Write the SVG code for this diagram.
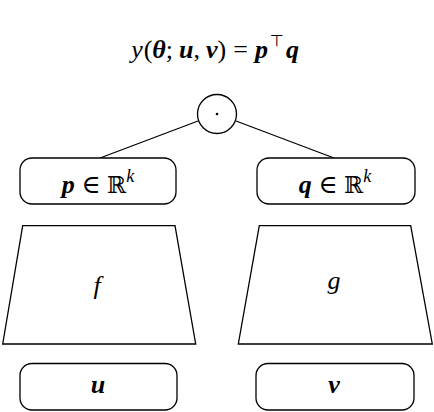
<svg xmlns="http://www.w3.org/2000/svg" width="434" height="412" viewBox="0 0 434 412">
<style>
.shape{fill:#fff;stroke:#000;stroke-width:1.3}
.edge{stroke:#000;stroke-width:1.3;fill:none}
text{font-family:"Liberation Serif","DejaVu Serif",serif;font-size:26px;fill:#000;text-anchor:middle}
.i{font-style:italic}
.b{font-weight:bold;font-style:italic}
.r{font-style:normal;font-weight:normal}
.ds{font-family:"DejaVu Serif",serif;font-style:normal;font-weight:normal;font-size:23px}
.sup{font-size:18px;font-style:italic}
</style>
<rect width="434" height="412" fill="#fff"/>
<g id="formula">
<text x="215" y="58" font-size="28"><tspan class="i">y</tspan><tspan class="r" dx="1">(</tspan><tspan class="b">θ</tspan><tspan class="r">;</tspan><tspan class="b" dx="6">u</tspan><tspan class="r">,</tspan><tspan class="b" dx="6">v</tspan><tspan class="r">)</tspan><tspan class="r" dx="7">=</tspan><tspan class="b" dx="7">p</tspan><tspan class="r" font-family="DejaVu Sans" font-size="16" dx="2" dy="-12">⊤</tspan><tspan class="b" dx="2" dy="12">q</tspan></text>
</g>
<g id="connectors">
<line class="edge" x1="100" y1="158" x2="198" y2="121"/>
<line class="edge" x1="334" y1="158" x2="236" y2="121"/>
</g>
<g id="dot">
<circle class="shape" cx="217" cy="114" r="19.5"/>
<circle cx="217" cy="114" r="1.3" fill="#000"/>
</g>
<g id="p">
<rect class="shape" x="20" y="158" width="156" height="46" rx="12"/>
<text x="98" y="193"><tspan class="b">p</tspan><tspan class="r"> ∈ </tspan><tspan class="ds">ℝ</tspan><tspan class="sup" dy="-11">k</tspan></text>
</g>
<g id="q">
<rect class="shape" x="257" y="158" width="158" height="46" rx="12"/>
<text x="335" y="193"><tspan class="b">q</tspan><tspan class="r"> ∈ </tspan><tspan class="ds">ℝ</tspan><tspan class="sup" dy="-11">k</tspan></text>
</g>
<g id="f">
<polygon class="shape" points="22.7,225.7 175,225.7 195.7,344 2.7,344"/>
<text class="i" x="97" y="294" font-size="24">f</text>
</g>
<g id="g">
<polygon class="shape" points="259.3,225.7 410.7,225.7 432.3,344 238.3,344"/>
<text class="i" x="334" y="289">g</text>
</g>
<g id="u">
<rect class="shape" x="20" y="363.5" width="157" height="46.5" rx="12"/>
<text class="b" x="98" y="393" font-size="28">u</text>
</g>
<g id="v">
<rect class="shape" x="256" y="363.5" width="158" height="46.5" rx="12"/>
<text class="b" x="334" y="393" font-size="28">v</text>
</g>
</svg>
